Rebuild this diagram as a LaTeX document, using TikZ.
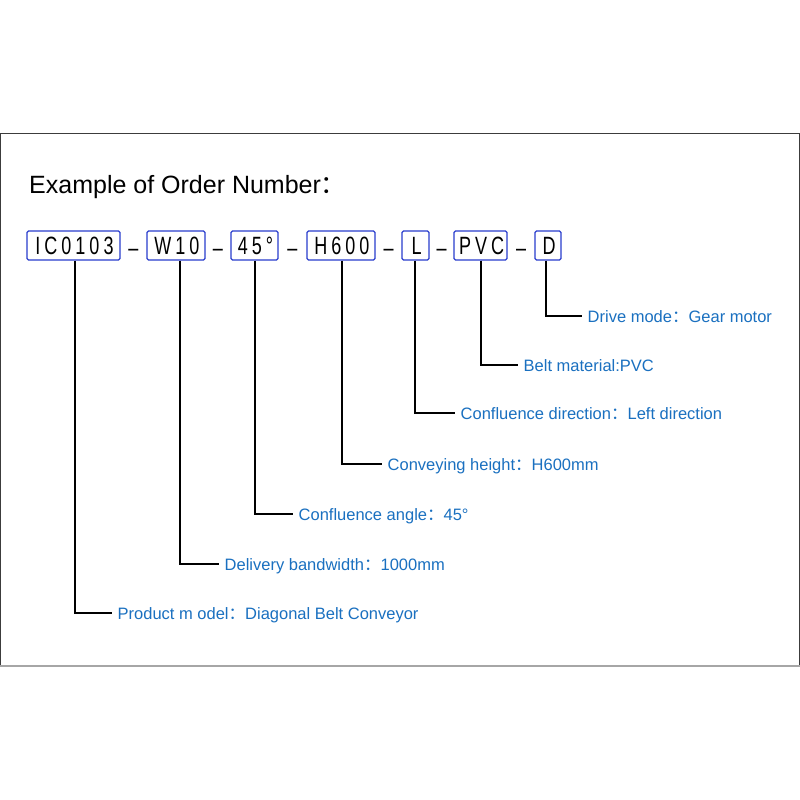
\documentclass[tikz,border=0pt]{standalone}
\usepackage{fontspec}
\setmainfont{Liberation Sans}
\newfontfamily\cjk{Noto Sans CJK SC}
\newfontfamily\boxfont[FakeStretch=0.72,LetterSpace=16]{Liberation Sans}
\newcommand{\fcolon}{{\cjk ：}}
\definecolor{lblue}{RGB}{26,112,192}
\definecolor{bblue}{RGB}{40,60,205}
\definecolor{frame}{RGB}{60,60,60}
\begin{document}
\begin{tikzpicture}[x=1pt,y=-1pt,
  codebox/.style={draw=bblue,line width=1.3pt,rounded corners=1.5pt,minimum height=29pt,inner sep=0pt,
    font=\boxfont\fontsize{25}{25}\selectfont,text height=18pt,text depth=0pt},
  sep/.style={font=\boxfont\fontsize{25}{25}\selectfont,inner sep=0pt,anchor=base},
  lbl/.style={anchor=west,text=lblue,font=\fontsize{16.5}{16.5}\selectfont,inner xsep=5.5pt,inner ysep=0pt,text height=12pt,text depth=0pt},
  conn/.style={draw=black,line width=1.3pt}]
\useasboundingbox (0,0) rectangle (800,800);
\fill[white] (0,0) rectangle (800,800);
% frame
\draw[frame,line width=1.3pt] (0.7,666) -- (0.7,133.5) -- (799.3,133.5) -- (799.3,666);
\draw[gray!70,line width=1.2pt] (0,666) -- (800,666);
% title
\node[anchor=base west,inner sep=0pt,font=\fontsize{25}{25}\selectfont] (title) at (29,193) {Example of Order Number\fcolon};
% code boxes
\node[codebox,minimum width=93pt] (ic) at (73.5,245.5) {\hspace*{2pt}IC0103};
\node[codebox,minimum width=58pt] (w) at (176,245.5) {\hspace*{2pt}W10};
\node[codebox,minimum width=47pt] (a) at (254.5,245.5) {\hspace*{2pt}45°};
\node[codebox,minimum width=68pt] (h) at (341,245.5) {\hspace*{2pt}H600};
\node[codebox,minimum width=27pt] (l) at (415.5,245.5) {\hspace*{2pt}L};
\node[codebox,minimum width=53pt] (p) at (480.5,245.5) {\hspace*{2pt}PVC};
\node[codebox,minimum width=26pt] (d) at (548,245.5) {\hspace*{2pt}D};
% dashes
\node[sep] (s1) at (133.5,256) {–};
\node[sep] (s2) at (218,256) {–};
\node[sep] (s3) at (292.5,256) {–};
\node[sep] (s4) at (388.5,256) {–};
\node[sep] (s5) at (441.5,256) {–};
\node[sep] (s6) at (521,256) {–};
% labels
\node[lbl] (ld) at (582,316) {Drive mode\fcolon Gear motor};
\node[lbl] (lp) at (518,365) {Belt material:PVC};
\node[lbl] (ll) at (455,413) {Confluence direction\fcolon Left direction};
\node[lbl] (lh) at (382,464) {Conveying height\fcolon H600mm};
\node[lbl] (la) at (293,514) {Confluence angle\fcolon 45°};
\node[lbl] (lw) at (219,564) {Delivery bandwidth\fcolon 1000mm};
\node[lbl] (lic) at (112,613) {Product m odel\fcolon Diagonal Belt Conveyor};
% connectors
\draw[conn] ([xshift=-2pt]d.south) |- (ld.west);
\draw[conn] ([xshift=0.5pt]p.south) |- (lp.west);
\draw[conn] ([xshift=-0.5pt]l.south) |- (ll.west);
\draw[conn] ([xshift=1pt]h.south) |- (lh.west);
\draw[conn] ([xshift=0.5pt]a.south) |- (la.west);
\draw[conn] ([xshift=4pt]w.south) |- (lw.west);
\draw[conn] ([xshift=1.5pt]ic.south) |- (lic.west);
\end{tikzpicture}
\end{document}
